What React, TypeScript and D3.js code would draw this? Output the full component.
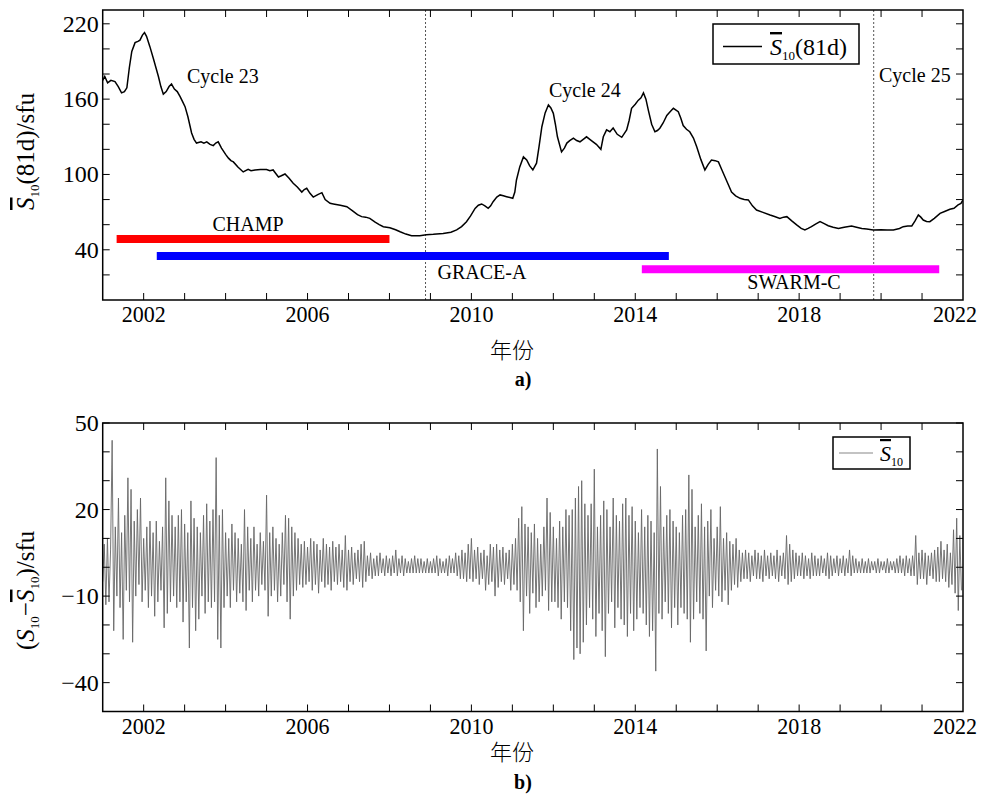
import * as d3 from "d3"

// 81-day mean S10 (sfu)
const sYear = [
  2001.0, 2001.05, 2001.12, 2001.2, 2001.3, 2001.38, 2001.46, 2001.53, 2001.59, 2001.65,
  2001.71, 2001.79, 2001.86, 2001.91, 2001.97, 2002.02, 2002.07, 2002.15, 2002.24, 2002.3,
  2002.36, 2002.42, 2002.48, 2002.55, 2002.62, 2002.68, 2002.75, 2002.82, 2002.89, 2002.95,
  2003.01, 2003.08, 2003.17, 2003.23, 2003.29, 2003.4, 2003.47, 2003.54, 2003.62, 2003.7,
  2003.76, 2003.82, 2003.9, 2004.0, 2004.07, 2004.13, 2004.19, 2004.3, 2004.43, 2004.55,
  2004.62, 2004.72, 2004.85, 2005.0, 2005.08, 2005.16, 2005.22, 2005.29, 2005.36, 2005.45,
  2005.55, 2005.65, 2005.75, 2005.86, 2005.92, 2005.98, 2006.06, 2006.14, 2006.25, 2006.35,
  2006.43, 2006.55, 2006.63, 2006.8, 2006.96, 2007.1, 2007.22, 2007.32, 2007.42, 2007.52,
  2007.65, 2007.75, 2007.85, 2008.01, 2008.15, 2008.26, 2008.4, 2008.54, 2008.74, 2008.9,
  2009.07, 2009.31, 2009.5, 2009.64, 2009.76, 2009.88, 2009.98, 2010.09, 2010.17, 2010.25,
  2010.33, 2010.41, 2010.47, 2010.53, 2010.62, 2010.7, 2010.78, 2010.86, 2011.01, 2011.06,
  2011.1, 2011.18, 2011.27, 2011.35, 2011.42, 2011.5, 2011.59, 2011.65, 2011.72, 2011.8,
  2011.88, 2011.94, 2012.0, 2012.05, 2012.1, 2012.2, 2012.27, 2012.33, 2012.4, 2012.49,
  2012.57, 2012.65, 2012.73, 2012.81, 2012.89, 2012.97, 2013.05, 2013.16, 2013.22, 2013.3,
  2013.38, 2013.46, 2013.56, 2013.67, 2013.79, 2013.85, 2013.91, 2014.0, 2014.07, 2014.14,
  2014.2, 2014.26, 2014.32, 2014.4, 2014.48, 2014.54, 2014.6, 2014.68, 2014.77, 2014.85,
  2014.93, 2015.05, 2015.11, 2015.17, 2015.25, 2015.33, 2015.42, 2015.5, 2015.6, 2015.7,
  2015.78, 2015.86, 2015.95, 2016.03, 2016.11, 2016.19, 2016.27, 2016.35, 2016.45, 2016.56,
  2016.66, 2016.76, 2016.86, 2016.96, 2017.1, 2017.29, 2017.4, 2017.53, 2017.62, 2017.7,
  2017.82, 2017.94, 2018.05, 2018.14, 2018.22, 2018.3, 2018.4, 2018.51, 2018.6, 2018.71,
  2018.83, 2018.96, 2019.1, 2019.28, 2019.4, 2019.53, 2019.65, 2019.81, 2020.0, 2020.15,
  2020.3, 2020.45, 2020.54, 2020.65, 2020.75, 2020.83, 2020.91, 2020.97, 2021.03, 2021.11,
  2021.19, 2021.3, 2021.44, 2021.55, 2021.68, 2021.78, 2021.88, 2021.95, 2022.0
]
const sVal = [
  175, 178, 173, 175, 174, 170, 165, 166, 169, 185,
  198, 205, 206, 207, 211, 213, 210, 202, 192, 185,
  178, 170, 164, 166, 170, 172, 168, 166, 162, 158,
  154, 146, 133, 128, 125, 126, 125, 126, 124, 123,
  125, 126, 121, 116, 113, 111, 110, 106, 102, 104,
  103, 103.6, 104, 104, 103, 103.6, 101, 98, 99, 100.4,
  97, 93, 90, 86, 88, 89, 85, 82, 84, 85.5,
  80, 77, 76.5, 75.5, 74.3, 71, 68, 66.4, 66, 65,
  62, 60, 58.4, 57.6, 56, 54.4, 52.5, 51.2, 51.2, 52,
  52.3, 53, 54, 55.8, 58.5, 62.4, 67, 73, 75.5, 76.5,
  75, 73, 75, 78.3, 82, 83.7, 83, 82.3, 81, 86,
  95.6, 106, 114, 111.5, 107, 103.6, 109, 122, 138, 149,
  155.4, 153, 148.7, 140, 130, 118, 121, 125, 127, 129,
  127, 126, 128, 130, 128, 126, 124, 120, 130, 135.5,
  134, 137, 132, 129.6, 135.5, 143, 152.7, 156, 159, 161,
  165, 160, 151, 140, 134, 135, 136.8, 141, 147, 150,
  152.7, 150, 145, 139, 136, 134, 129, 122, 112, 103.6,
  108, 111.5, 111, 110, 104, 98, 92, 86, 83, 81,
  80, 79.7, 75, 71.7, 70, 67.7, 66.5, 65, 66, 66.4,
  63, 59.8, 57, 55.8, 57, 58.4, 60.5, 62.4, 61, 59.2,
  58, 57, 58, 59, 58, 57, 56.5, 55.8, 56, 55.8,
  55.8, 57, 58.4, 59, 59, 63, 67.7, 66, 63.7, 62.5,
  62.4, 65, 69, 70.5, 72.3, 73, 75.7, 77, 79.7
]

// S10 minus its 81-day mean (sfu), 26 readings per year, panel b
const resid2001 = [-5, 8, -13, 10, -12, 6, 44, -22, 14, -10, 24, -14, 12, -25, 18, -8, 31, -12, 27, -26, 16, -10, 20, -6, 24, -12]
const resid2002 = [10, -8, 14, -14, 16, -10, 12, -17, 16, -12, 9, -8, 14, -21, 31, -16, 23, -12, 18, -10, 14, -14, 18, -12, 20, -19]
const resid2003 = [15, -12, 12, -28, 23, -14, 17, -22, 14, -18, 12, -10, 18, -16, 22, -12, 16, -14, 20, -12, 38, -25, 18, -28, 20, -14]
const resid2004 = [12, -10, 10, -14, 15, -8, 12, -12, 10, -9, 8, -12, 20, -15, 14, -8, 10, -12, 14, -8, 8, -10, 12, -6, 9, -8]
const resid2005 = [25, -17, 12, -10, 14, -8, 10, -12, 8, -10, 12, -6, 18, -12, 17, -18, 14, -10, 12, -8, 10, -6, 8, -7, 9, -6]
const resid2006 = [7, -5, 10, -8, 9, -6, 8, -9, 6, -5, 10, -7, 8, -6, 7, -8, 9, -5, 7, -6, 8, -5, 6, -7, 11, -8]
const resid2007 = [6, -5, 7, -6, 5, -4, 6, -5, 8, -7, 9, -5, 4, -3, 5, -4, 3, -3, 4, -3, 5, -2, 3, -3, 4, -2]
const resid2008 = [3, -3, 4, -2, 6, -3, 3, -2, 4, -3, 3, -2, 2, -2, 3, -2, 4, -2, 3, -2, 3, -2, 2, -2, 3, -2]
const resid2009 = [2, -2, 3, -2, 4, -3, 3, -2, 2, -2, 3, -3, 4, -2, 3, -2, 5, -3, 4, -4, 6, -4, 5, -5, 8, -4]
const resid2010 = [10, -5, 6, -4, 7, -6, 5, -4, 6, -8, 4, -6, 8, -5, 7, -10, 8, -7, 6, -5, 7, -6, 5, -4, 6, -8]
const resid2011 = [8, -6, 10, -8, 17, -12, 21, -22, 15, -10, 14, -16, 12, -9, 15, -14, 10, -12, 8, -10, 14, -8, 24, -15, 19, -12]
const resid2012 = [14, -12, 10, -14, 16, -18, 14, -12, 20, -14, 18, -22, 20, -32, 24, -28, 28, -30, 30, -26, 22, -20, 18, -14, 22, -18]
const resid2013 = [34, -24, 14, -16, 18, -22, 23, -31, 20, -16, 14, -12, 24, -21, 18, -14, 16, -18, 22, -20, 24, -24, 18, -16, 21, -22]
const resid2014 = [16, -18, 12, -14, 20, -16, 14, -20, 18, -24, 16, -22, 12, -36, 41, -16, 28, -18, 14, -12, 18, -16, 20, -21, 16, -14]
const resid2015 = [14, -20, 12, -14, 18, -16, 20, -18, 32, -26, 27, -18, 14, -12, 18, -16, 22, -18, 14, -29, 16, -10, 20, -14, 10, -8]
const resid2016 = [14, -10, 21, -12, 10, -8, 12, -13, 9, -8, 8, -6, 10, -7, 6, -5, 5, -4, 6, -4, 5, -5, 4, -3, 6, -4]
const resid2017 = [5, -4, 4, -5, 6, -3, 4, -4, 5, -3, 4, -4, 6, -5, 4, -3, 5, -4, 11, -6, 8, -5, 6, -4, 5, -3]
const resid2018 = [4, -3, 5, -4, 4, -3, 3, -4, 5, -3, 4, -3, 3, -3, 4, -2, 3, -3, 5, -4, 4, -3, 3, -2, 4, -3]
const resid2019 = [3, -2, 4, -3, 3, -2, 6, -3, 4, -2, 3, -2, 2, -2, 3, -2, 2, -2, 3, -2, 2, -1, 2, -2, 3, -2]
const resid2020 = [2, -1, 2, -2, 3, -2, 2, -1, 2, -2, 3, -2, 4, -2, 3, -3, 4, -2, 3, -3, 4, -3, 11, -6, 5, -4]
const resid2021 = [6, -4, 5, -6, 4, -3, 5, -4, 6, -5, 7, -5, 9, -4, 6, -5, 8, -7, 5, -6, 13, -9, 17, -15, 11, -8]
const residRows = [
  resid2001, resid2002, resid2003, resid2004, resid2005, resid2006, resid2007,
  resid2008, resid2009, resid2010, resid2011, resid2012, resid2013, resid2014,
  resid2015, resid2016, resid2017, resid2018, resid2019, resid2020, resid2021
]

// satellite missions: name, start/end year, plotted level (sfu)
const missionNames = ["CHAMP", "GRACE-A", "SWARM-C"]
const missionStart = [2001.34, 2002.32, 2014.16]
const missionEnd = [2008.0, 2014.82, 2021.42]
const missionLevel = [48.5, 35, 24.5]
const missionColors = ["#ff0000", "#0000ff", "#ff00ff"]

const cycleStarts = [2008.88, 2019.82]
const cycleNames = ["Cycle 23", "Cycle 24", "Cycle 25"]

const xMinor = d3.range(2002, 2022)
const xLabels = [2002, 2006, 2010, 2014, 2018, 2022]
const topMinor = d3.range(20, 231, 20)
const topLabels = [40, 100, 160, 220]
const botMinor = d3.range(-40, 51, 10)
const botLabels = [-40, -10, 20, 50]

const SERIF = "'Liberation Serif', 'Times New Roman', serif"
const CJK = "'Noto Sans CJK SC', sans-serif"
const W = 981
const H = 796
const L = 102.7
const R = 963
const TICK = 7

const x = d3.scaleLinear().domain([2001, 2022]).range([L, R])
const yTop = d3.scaleLinear().domain([0, 231]).range([300, 10])
const yBot = d3.scaleLinear().domain([-50, 50]).range([711.5, 423])
const fmt = d3.format("d")

type FrameProps = {
  y: d3.ScaleLinear<number, number>
  minor: number[]
  labels: number[]
}

const Frame = ({ y, minor, labels }: FrameProps) => {
  const [b, t] = y.range()
  return (
    <g>
      {xMinor.map(v => (
        <g key={"x" + v} stroke="#000" strokeWidth={1}>
          <line x1={x(v)} x2={x(v)} y1={b} y2={b - TICK} />
          <line x1={x(v)} x2={x(v)} y1={t} y2={t + TICK} />
        </g>
      ))}
      {minor.map(v => (
        <g key={"y" + v} stroke="#000" strokeWidth={1}>
          <line x1={L} x2={L + TICK} y1={y(v)} y2={y(v)} />
          <line x1={R} x2={R - TICK} y1={y(v)} y2={y(v)} />
        </g>
      ))}
      {xLabels.map(v => (
        // keep the last label inside the page
        <text key={"xl" + v} x={Math.min(x(v), W - 26)} y={b + 22} textAnchor="middle" fontSize={24}
          textLength={44} lengthAdjust="spacingAndGlyphs" fontFamily={SERIF}>{v}</text>
      ))}
      {labels.map(v => (
        <text key={"yl" + v} x={L - 4} y={y(v) + 8} textAnchor="end" fontSize={24} fontFamily={SERIF}>{fmt(v)}</text>
      ))}
      <rect x={L} y={t} width={R - L} height={b - t} fill="none" stroke="#000" strokeWidth={1.5} />
    </g>
  )
}

// italic S with an overbar
const SBar = () => (
  <tspan fontStyle="italic" textDecoration="overline">S</tspan>
)

const App = () => {
  const topLine = d3.line<number>()
    .x((_, i) => x(sYear[i]))
    .y(d => yTop(d))
  const resid = residRows.flatMap((row, yi) => row.map((v, i) => ({ t: 2001 + yi + i / row.length, v })))
  const botLine = d3.line<{ t: number, v: number }>()
    .x(d => x(d.t))
    .y(d => yBot(d.v))

  return (
    <svg width={W} height={H} style={{ position: "absolute", left: 0, top: 0, background: "#fff" }}
      fontFamily={SERIF}>
      <defs>
        <clipPath id="clipTop"><rect x={L} y={10} width={R - L} height={290} /></clipPath>
        <clipPath id="clipBot"><rect x={L} y={423} width={R - L} height={288.5} /></clipPath>
      </defs>

      {/* panel a */}
      {cycleStarts.map(c => (
        <line key={c} x1={x(c)} x2={x(c)} y1={10} y2={300} stroke="#555" strokeWidth={1} strokeDasharray="2,2" />
      ))}
      {missionNames.map((n, i) => (
        <line key={n} x1={x(missionStart[i])} x2={x(missionEnd[i])} y1={yTop(missionLevel[i])} y2={yTop(missionLevel[i])}
          stroke={missionColors[i]} strokeWidth={8} />
      ))}
      <path d={topLine(sVal) ?? ""} fill="none" stroke="#000" strokeWidth={1.5} clipPath="url(#clipTop)" />
      <Frame y={yTop} minor={topMinor} labels={topLabels} />

      <text x={187} y={83} fontSize={20}>{cycleNames[0]}</text>
      <text x={549} y={97} fontSize={20}>{cycleNames[1]}</text>
      <text x={879} y={82} fontSize={20}>{cycleNames[2]}</text>
      <text x={248} y={231} fontSize={20} textAnchor="middle">{missionNames[0]}</text>
      <text x={482} y={279} fontSize={20} textAnchor="middle">{missionNames[1]}</text>
      <text x={794} y={289} fontSize={20} textAnchor="middle">{missionNames[2]}</text>

      <rect x={713} y={24} width={146} height={40} fill="#fff" stroke="#000" strokeWidth={1.5} />
      <line x1={723} x2={762} y1={46.5} y2={46.5} stroke="#000" strokeWidth={1.5} />
      <text x={770} y={55} fontSize={24}>
        <SBar /><tspan fontSize={13} dy={5}>10</tspan><tspan dy={-5}>(81d)</tspan>
      </text>

      <g transform="translate(34,210) rotate(-90)">
        <text x={0} y={0} fontSize={25}>
          <SBar /><tspan fontSize={13} dy={5}>10</tspan><tspan dy={-5}>(81d)/sfu</tspan>
        </text>
      </g>
      <text x={512} y={358} fontSize={22} textAnchor="middle" fontFamily={CJK} fontWeight={300}>年份</text>
      <text x={523} y={386} fontSize={20} textAnchor="middle" fontWeight="bold">a)</text>

      {/* panel b */}
      <path d={botLine(resid) ?? ""} fill="none" stroke="#666" strokeWidth={0.9} clipPath="url(#clipBot)" />
      <Frame y={yBot} minor={botMinor} labels={botLabels} />

      <rect x={833} y={437} width={77} height={32} fill="#fff" stroke="#000" strokeWidth={1.5} />
      <line x1={839} x2={873} y1={453} y2={453} stroke="#888" strokeWidth={1.2} />
      <text x={880} y={461} fontSize={22}>
        <SBar /><tspan fontSize={12} dy={5}>10</tspan>
      </text>

      <g transform="translate(34,650) rotate(-90)">
        <text x={0} y={0} fontSize={25}>
          (<tspan fontStyle="italic">S</tspan><tspan fontSize={13} dy={5}>10</tspan><tspan dy={-5}>−</tspan>
          <SBar /><tspan fontSize={13} dy={5}>10</tspan><tspan dy={-5}>)/sfu</tspan>
        </text>
      </g>
      <text x={512} y={760} fontSize={22} textAnchor="middle" fontFamily={CJK} fontWeight={300}>年份</text>
      <text x={523} y={789} fontSize={20} textAnchor="middle" fontWeight="bold">b)</text>
    </svg>
  )
}

export default App
